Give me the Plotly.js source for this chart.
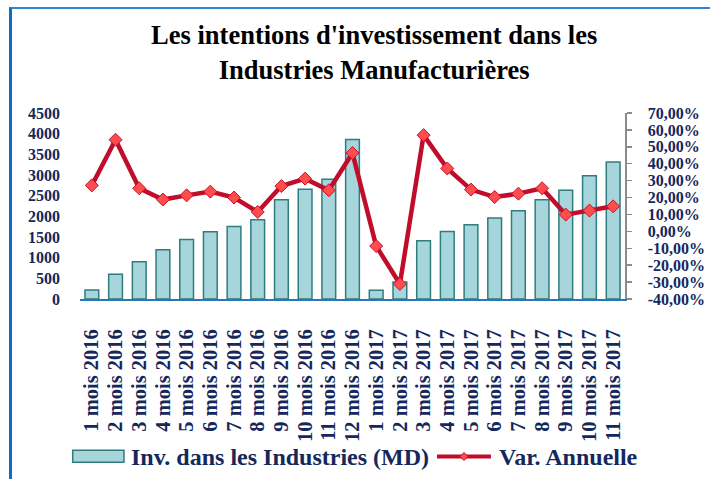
<!DOCTYPE html>
<html>
<head>
<meta charset="utf-8">
<script src="https://cdn.plot.ly/plotly-3.0.1.min.js"></script>
<style>
  html, body { margin: 0; padding: 0; background: #ffffff; }
  #wrap { position: relative; width: 710px; height: 479px; overflow: hidden; }
  #chart { position: absolute; left: 0; top: 0; width: 710px; height: 479px; }
  #frame { position: absolute; left: 9px; top: 7px; width: 720px; height: 500px;
           border-left: 3px solid #0A6FC2; border-top: 2px solid #2F86D6; pointer-events: none; }
</style>
</head>
<body>
<div id="wrap">
  <div id="chart"></div>
  <div id="frame"></div>
</div>
<script>
const categories = [
  "1 mois 2016", "2 mois 2016", "3 mois 2016", "4 mois 2016", "5 mois 2016", "6 mois 2016",
  "7 mois 2016", "8 mois 2016", "9 mois 2016", "10 mois 2016", "11 mois 2016", "12 mois 2016",
  "1 mois 2017", "2 mois 2017", "3 mois 2017", "4 mois 2017", "5 mois 2017", "6 mois 2017",
  "7 mois 2017", "8 mois 2017", "9 mois 2017", "10 mois 2017", "11 mois 2017"
];
const investissement = [217, 597, 901, 1191, 1442, 1626, 1756, 1916, 2399, 2657, 2899, 3857,
                        210, 411, 1409, 1635, 1796, 1957, 2134, 2399, 2633, 2979, 3317];
const variationAnnuelle = [27.2, 54.2, 25.5, 18.8, 21.3, 23.5, 20.0, 11.5, 26.8, 31.2, 24.3, 46.3,
                           -8.7, -31.1, 56.9, 37.2, 24.7, 20.3, 22.3, 25.5, 9.9, 12.3, 14.8];
const leftTicks = [0, 500, 1000, 1500, 2000, 2500, 3000, 3500, 4000, 4500];
const rightTicks = [-40, -30, -20, -10, 0, 10, 20, 30, 40, 50, 60, 70];
const rightTickText = ["-40,00%", "-30,00%", "-20,00%", "-10,00%", "0,00%", "10,00%",
                       "20,00%", "30,00%", "40,00%", "50,00%", "60,00%", "70,00%"];
const seriesNames = ["Inv. dans les Industries (MD)", "Var. Annuelle"];
const chartTitle = "Les intentions d'investissement dans les<br>Industries Manufacturières";

const NAVY = "#14285C";
const FONT = "Liberation Serif, Times New Roman, serif";
const BAR_FILL = "#A6D6DC";
const BAR_LINE = "#2F7D7F";
const LINE_COL = "#C00D2B";
const MARK_FILL = "#FF4D4D";

const traces = [
  {
    type: "bar", x: categories, y: investissement, name: seriesNames[0],
    marker: { color: BAR_FILL, line: { color: BAR_LINE, width: 1.5 } },
    yaxis: "y"
  },
  {
    type: "scatter", mode: "lines+markers", x: categories, y: variationAnnuelle, name: seriesNames[1],
    line: { color: LINE_COL, width: 4.5 },
    marker: { symbol: "diamond", size: 10, color: MARK_FILL, line: { color: "#C8102E", width: 1 } },
    yaxis: "y2", cliponaxis: false
  }
];

const dx = 4 / 545, dy = 4 / 186.5;
const dcx = 0.7046, dcy = -0.847;
const layout = {
  width: 710, height: 479,
  margin: { l: 80, r: 85, t: 112.5, b: 180, pad: 0, autoexpand: false },
  paper_bgcolor: "rgba(0,0,0,0)", plot_bgcolor: "rgba(0,0,0,0)",
  showlegend: false,
  bargap: 0.42,
  title: {
    text: chartTitle, x: 0.527, xanchor: "center", y: 0.908, yanchor: "middle",
    font: { family: FONT, size: 26.5, color: "#000000", weight: "bold" }
  },
  xaxis: {
    type: "category", range: [-0.5, categories.length - 0.5], autorange: false,
    tickmode: "array", tickvals: categories, ticktext: categories,
    tickangle: -90, showgrid: false, zeroline: false, automargin: false,
    showline: true, linecolor: "#2E75B6", linewidth: 2, ticks: "",
    ticklabelstandoff: 20,
    tickfont: { family: FONT, size: 20.5, color: NAVY, weight: "bold" }
  },
  yaxis: {
    range: [0, 4500], autorange: false, tickmode: "array", tickvals: leftTicks,
    showgrid: false, zeroline: false, automargin: false,
    showline: false, ticks: "", ticklabelstandoff: 19,
    tickfont: { family: FONT, size: 16, color: NAVY, weight: "bold" }
  },
  yaxis2: {
    overlaying: "y", side: "right", range: [-40, 70], autorange: false, automargin: false,
    tickmode: "array", tickvals: rightTicks, ticktext: rightTickText,
    showgrid: false, zeroline: false, showline: true, linecolor: "#8C8C8C", linewidth: 1.5,
    ticks: "outside", ticklen: 5, tickcolor: "#8C8C8C", tickwidth: 1.5,
    ticklabelstandoff: 13,
    tickfont: { family: FONT, size: 16, color: NAVY, weight: "bold" }
  },
  shapes: [
    { type: "rect", xref: "paper", yref: "paper", x0: -0.0134, x1: 0.0807, y0: -0.8777, y1: -0.8134,
      fillcolor: BAR_FILL, line: { color: BAR_LINE, width: 1.5 } },
    { type: "line", xref: "paper", yref: "paper", x0: 0.655, x1: 0.754, y0: dcy, y1: dcy,
      line: { color: LINE_COL, width: 4 } },
    { type: "path", xref: "paper", yref: "paper",
      path: `M ${dcx - dx} ${dcy} L ${dcx} ${dcy + dy} L ${dcx + dx} ${dcy} L ${dcx} ${dcy - dy} Z`,
      fillcolor: MARK_FILL, line: { color: "#C8102E", width: 1 } }
  ],
  annotations: [
    { xref: "paper", yref: "paper", x: 0.0899, y: -0.847, xanchor: "left", yanchor: "middle",
      showarrow: false, text: seriesNames[0],
      font: { family: FONT, size: 24, color: NAVY, weight: "bold" } },
    { xref: "paper", yref: "paper", x: 0.765, y: -0.847, xanchor: "left", yanchor: "middle",
      showarrow: false, text: seriesNames[1],
      font: { family: FONT, size: 24, color: NAVY, weight: "bold" } }
  ]
};

Plotly.newPlot("chart", traces, layout, { displayModeBar: false, staticPlot: true });
</script>
</body>
</html>
